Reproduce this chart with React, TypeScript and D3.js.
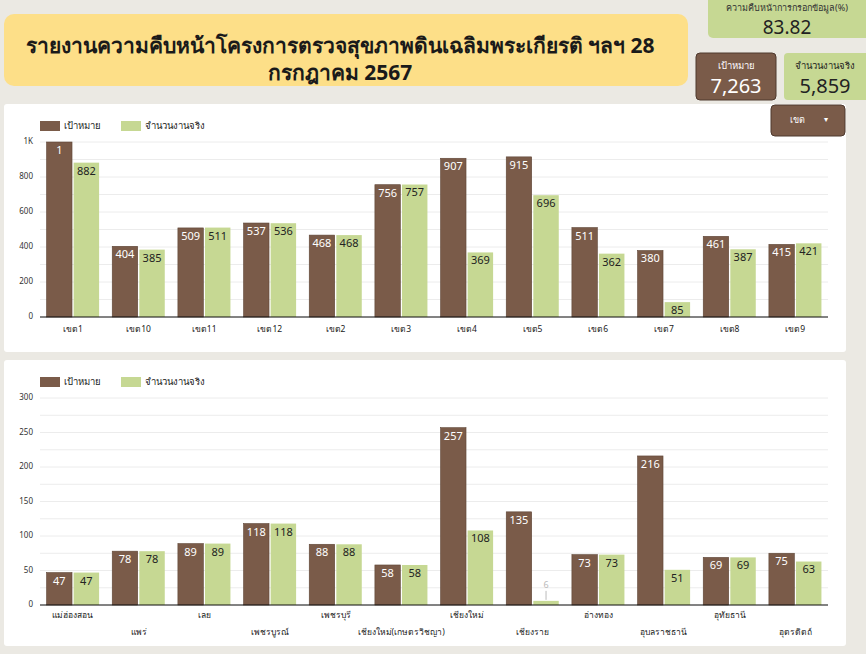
import React from "react";
import * as d3 from "d3";

const zones = ["เขต1", "เขต10", "เขต11", "เขต12", "เขต2", "เขต3", "เขต4", "เขต5", "เขต6", "เขต7", "เขต8", "เขต9"];
const zoneTarget = [1000, 404, 509, 537, 468, 756, 907, 915, 511, 380, 461, 415];
const zoneActual = [882, 385, 511, 536, 468, 757, 369, 696, 362, 85, 387, 421];
const zoneTargetLabels = ["1", "404", "509", "537", "468", "756", "907", "915", "511", "380", "461", "415"];

const provinces = ["แม่ฮ่องสอน", "แพร่", "เลย", "เพชรบูรณ์", "เพชรบุรี", "เชียงใหม่(เกษตรวิชญา)", "เชียงใหม่", "เชียงราย", "อ่างทอง", "อุบลราชธานี", "อุทัยธานี", "อุตรดิตถ์"];
const provTarget = [47, 78, 89, 118, 88, 58, 257, 135, 73, 216, 69, 75];
const provActual = [47, 78, 89, 118, 88, 58, 108, 6, 73, 51, 69, 63];

const topTicks = [0, 200, 400, 600, 800, 1000];
const topTickLabels = ["0", "200", "400", "600", "800", "1K"];
const bottomTicks = [0, 50, 100, 150, 200, 250, 300];

const titleLines = ["รายงานความคืบหน้าโครงการตรวจสุขภาพดินเฉลิมพระเกียรติ ฯลฯ 28", "กรกฎาคม 2567"];
const legendLabels = ["เป้าหมาย", "จำนวนงานจริง"];

const BROWN = "#7a5b49";
const GREEN = "#c6d893";
const FONT = "'Noto Sans', 'DejaVu Sans', sans-serif";

type ChartProps = {
  top: number;
  height: number;
  cats: string[];
  target: number[];
  actual: number[];
  targetLabels?: string[];
  yMax: number;
  yTop: number;
  yBottom: number;
  ticks: number[];
  tickLabels: string[];
  gridStep: number;
  stagger: boolean;
};

function Chart(p: ChartProps) {
  const x = d3.scaleBand<string>().domain(p.cats).range([40, 828]).paddingInner(0.2).paddingOuter(0.1);
  const x1 = d3.scaleBand<string>().domain(["t", "a"]).range([0, x.bandwidth()]).paddingInner(0.06);
  const y = d3.scaleLinear().domain([0, p.yMax]).range([p.yBottom, p.yTop]);
  const grid = d3.range(0, p.yMax + 0.001, p.gridStep);
  const legY = p.top + 22;
  return (
    <g>
      <rect x={4} y={p.top} width={842} height={p.height} fill="#ffffff" rx={3} />
      {grid.map((g) => (
        <line key={"g" + g} x1={40} x2={828} y1={y(g)} y2={y(g)} stroke="#ececec" strokeWidth={1} />
      ))}
      {p.ticks.map((t, i) => (
        <text key={"t" + t} x={33} y={y(t)} textAnchor="end" dominantBaseline="middle" fontSize={8} fill="#333" fontFamily={FONT}>
          {p.tickLabels[i]}
        </text>
      ))}
      <rect x={40} y={legY - 5} width={20} height={10} fill={BROWN} />
      <text x={64} y={legY} dominantBaseline="middle" fontSize={9.5} fill="#222" fontFamily={FONT}>{legendLabels[0]}</text>
      <rect x={121} y={legY - 5} width={20} height={10} fill={GREEN} />
      <text x={145} y={legY} dominantBaseline="middle" fontSize={9.5} fill="#222" fontFamily={FONT}>{legendLabels[1]}</text>
      {p.cats.map((c, i) => {
        const bx = x(c)!;
        const tx = bx + x1("t")!;
        const ax = bx + x1("a")!;
        const w = x1.bandwidth();
        const ty = y(p.target[i]);
        const ay = y(p.actual[i]);
        const ah = p.yBottom - ay;
        const lbl = p.targetLabels ? p.targetLabels[i] : String(p.target[i]);
        return (
          <g key={c}>
            <rect x={tx} y={ty} width={w} height={p.yBottom - ty} fill={BROWN} stroke="#5e4536" strokeWidth={0.6} />
            <rect x={ax} y={ay} width={w} height={ah} fill={GREEN} />
            <text x={tx + w / 2} y={ty + 9} textAnchor="middle" dominantBaseline="middle" fontSize={11} fill="#fff" fontFamily={FONT}>{lbl}</text>
            {ah < 8 ? (
              <g>
                <line x1={ax + w / 2} x2={ax + w / 2} y1={ay - 10} y2={ay - 1} stroke="#bbb" strokeWidth={1} />
                <text x={ax + w / 2} y={ay - 15} textAnchor="middle" dominantBaseline="middle" fontSize={9} fill="#bbb" fontFamily={FONT}>{p.actual[i]}</text>
              </g>
            ) : (
              <text x={ax + w / 2} y={ay + 9} textAnchor="middle" dominantBaseline="middle" fontSize={11} fill="#222" fontFamily={FONT}>{p.actual[i]}</text>
            )}
            <text
              x={bx + x.bandwidth() / 2}
              y={p.yBottom + (p.stagger ? (i % 2 === 1 ? 28 : 11) : 13)}
              textAnchor="middle"
              dominantBaseline="middle"
              fontSize={8.5}
              fill="#222"
              fontFamily={FONT}
            >
              {c}
            </text>
          </g>
        );
      })}
      <line x1={40} x2={828} y1={p.yBottom} y2={p.yBottom} stroke="#111" strokeWidth={1.2} />
    </g>
  );
}

export default function App() {
  return (
    <svg width={866} height={654} style={{ position: "absolute", left: 0, top: 0 }}>
      <rect x={0} y={0} width={866} height={654} fill="#ebe9e3" />
      <rect x={4} y={14} width={684} height={72} rx={10} fill="#fddf88" />
      <text x={340} y={53} textAnchor="middle" fontSize={21} fontWeight="bold" fill="#1a1a1a" fontFamily={FONT}>{titleLines[0]}</text>
      <text x={340} y={80} textAnchor="middle" fontSize={21} fontWeight="bold" fill="#1a1a1a" fontFamily={FONT}>{titleLines[1]}</text>

      <rect x={708} y={-6} width={162} height={44} rx={5} fill="#c6d893" />
      <text x={787} y={11} textAnchor="middle" fontSize={9} fill="#333" fontFamily={FONT}>ความคืบหน้าการกรอกข้อมูล(%)</text>
      <text x={787} y={34} textAnchor="middle" fontSize={19} fill="#222" fontFamily={FONT}>83.82</text>

      <rect x={696} y={53} width={80} height={47} rx={4} fill={BROWN} stroke="#4f3a2e" strokeWidth={1} />
      <text x={736} y={69} textAnchor="middle" fontSize={9.5} fill="#fff" fontFamily={FONT}>เป้าหมาย</text>
      <text x={736} y={93} textAnchor="middle" fontSize={20} fill="#fff" fontFamily={FONT}>7,263</text>

      <rect x={784} y={53} width={86} height={47} rx={4} fill="#c6d893" />
      <text x={825} y={69} textAnchor="middle" fontSize={9.5} fill="#222" fontFamily={FONT}>จำนวนงานจริง</text>
      <text x={825} y={93} textAnchor="middle" fontSize={20} fill="#222" fontFamily={FONT}>5,859</text>

      <Chart
        top={104}
        height={248}
        cats={zones}
        target={zoneTarget}
        actual={zoneActual}
        targetLabels={zoneTargetLabels}
        yMax={1000}
        yTop={142}
        yBottom={317}
        ticks={topTicks}
        tickLabels={topTickLabels}
        gridStep={100}
        stagger={false}
      />
      <rect x={771} y={105} width={74} height={31} rx={4} fill={BROWN} stroke="#4f3a2e" strokeWidth={1} />
      <text x={797} y={121} textAnchor="middle" dominantBaseline="middle" fontSize={9} fill="#fff" fontFamily={FONT}>เขต</text>
      <text x={826} y={120} textAnchor="middle" dominantBaseline="middle" fontSize={8} fill="#fff" fontFamily={FONT}>▾</text>

      <Chart
        top={360}
        height={286}
        cats={provinces}
        target={provTarget}
        actual={provActual}
        yMax={300}
        yTop={398}
        yBottom={605}
        ticks={bottomTicks}
        tickLabels={bottomTicks.map(String)}
        gridStep={25}
        stagger={true}
      />
    </svg>
  );
}
